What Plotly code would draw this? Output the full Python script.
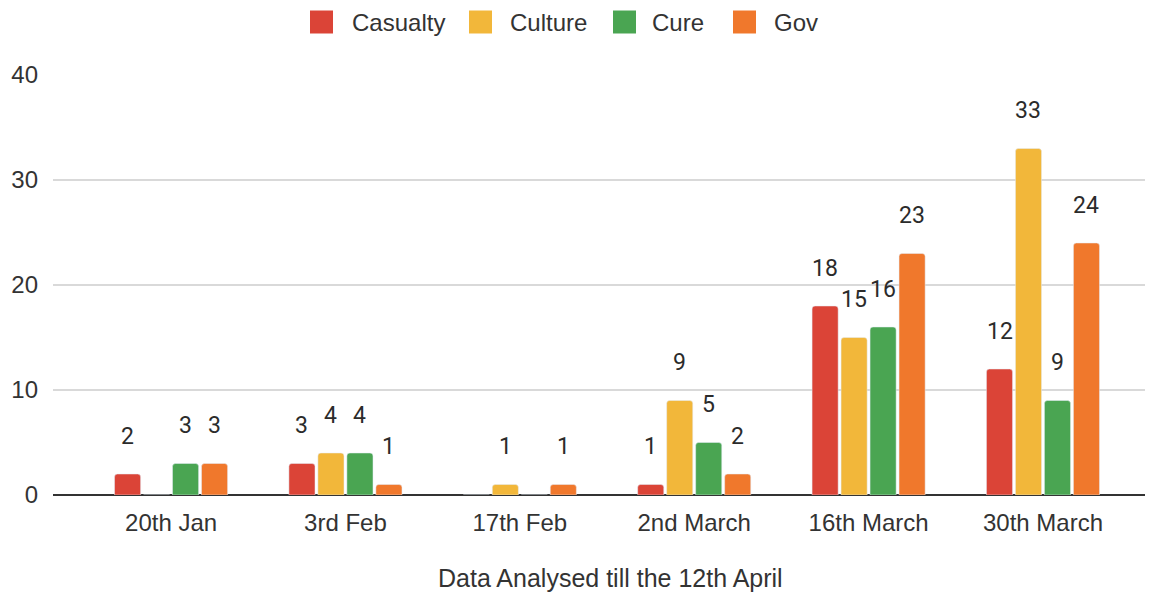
import plotly.graph_objects as go

# Weekly counts per topic
periods = ["20th Jan", "3rd Feb", "17th Feb", "2nd March", "16th March", "30th March"]
casualty = [2, 3, 0, 1, 18, 12]
culture = [0, 4, 1, 9, 15, 33]
cure = [3, 4, 0, 5, 16, 9]
gov = [3, 1, 1, 2, 23, 24]

series_names = ["Casualty", "Culture", "Cure", "Gov"]
series_values = [casualty, culture, cure, gov]
series_colors = ["#db4437", "#f2b73a", "#4aa552", "#f0782c"]
x_title = "Data Analysed till the 12th April"

# figure / plot-area geometry in pixels
W, H = 1158, 597
ML, MR, MT, MB = 53, 13, 75, 102
PW, PH = W - ML - MR, H - MT - MB

def px_x(p):
    return (p - ML) / PW

def px_y(p):
    return (H - MB - p) / PH

BARGAP = 0.335
GROUPGAP = 0.1
slot = (1 - BARGAP) / len(series_names)

idx = list(range(len(periods)))
fig = go.Figure()
annotations = []
shapes = []
for k, (name, vals, color) in enumerate(zip(series_names, series_values, series_colors)):
    fig.add_trace(go.Bar(
        x=idx, y=vals, name=name, marker_color=color,
        showlegend=False, hoverinfo="y",
    ))
    off = (k - (len(series_names) - 1) / 2) * slot
    for i, v in zip(idx, vals):
        if v == 0:
            continue
        annotations.append(dict(
            x=i + off, y=v, xref="x", yref="y", text=str(v),
            showarrow=False, yanchor="middle", yshift=38,
            font=dict(family="Roboto, Liberation Sans, sans-serif", size=23, color="#2b2b2b"),
        ))

# legend row across the top: swatch left edges and label left edges (px)
swatch_left = [310, 469, 613, 733]
label_left = [350, 508, 650, 772]
SW = 23
LEG_Y = 22
for k, (name, color) in enumerate(zip(series_names, series_colors)):
    shapes.append(dict(
        type="rect", xref="paper", yref="paper",
        x0=px_x(swatch_left[k]), x1=px_x(swatch_left[k] + SW),
        y0=px_y(LEG_Y + SW / 2), y1=px_y(LEG_Y - SW / 2),
        fillcolor=color, line=dict(width=0), layer="above",
    ))
    annotations.append(dict(
        x=px_x(label_left[k]), y=px_y(LEG_Y), xref="paper", yref="paper",
        text=name, showarrow=False, xanchor="left", yanchor="middle",
        font=dict(family="Liberation Sans, Arial, sans-serif", size=24, color="#333333"),
    ))

# x-axis caption below the category labels
annotations.append(dict(
    x=px_x(610), y=px_y(578), xref="paper", yref="paper",
    text=x_title, showarrow=False, xanchor="center", yanchor="middle",
    font=dict(family="Liberation Sans, Arial, sans-serif", size=25, color="#333333"),
))

fig.update_layout(
    width=W, height=H,
    margin=dict(l=ML, r=MR, t=MT, b=MB, autoexpand=False),
    paper_bgcolor="white", plot_bgcolor="white",
    barmode="group", bargap=BARGAP, bargroupgap=GROUPGAP,
    barcornerradius=3,
    showlegend=False,
    font=dict(family="Liberation Sans, Arial, sans-serif", size=23, color="#333333"),
    annotations=annotations,
    shapes=shapes,
    xaxis=dict(
        tickmode="array", tickvals=idx, ticktext=periods,
        range=[-0.677, 5.585], showgrid=False, zeroline=False,
        showline=False, ticks="", ticklabelstandoff=11, automargin=False,
        tickfont=dict(size=24, color="#333333"),
    ),
    yaxis=dict(
        range=[0, 40], tickvals=[0, 10, 20, 30, 40],
        showgrid=True, gridcolor="#d9d9d9", gridwidth=1.5,
        zeroline=True, zerolinecolor="#333333", zerolinewidth=1.5,
        showline=False, ticks="", ticklabelstandoff=14, automargin=False,
        tickfont=dict(size=24, color="#333333"),
    ),
)

fig.write_html("out.html")
